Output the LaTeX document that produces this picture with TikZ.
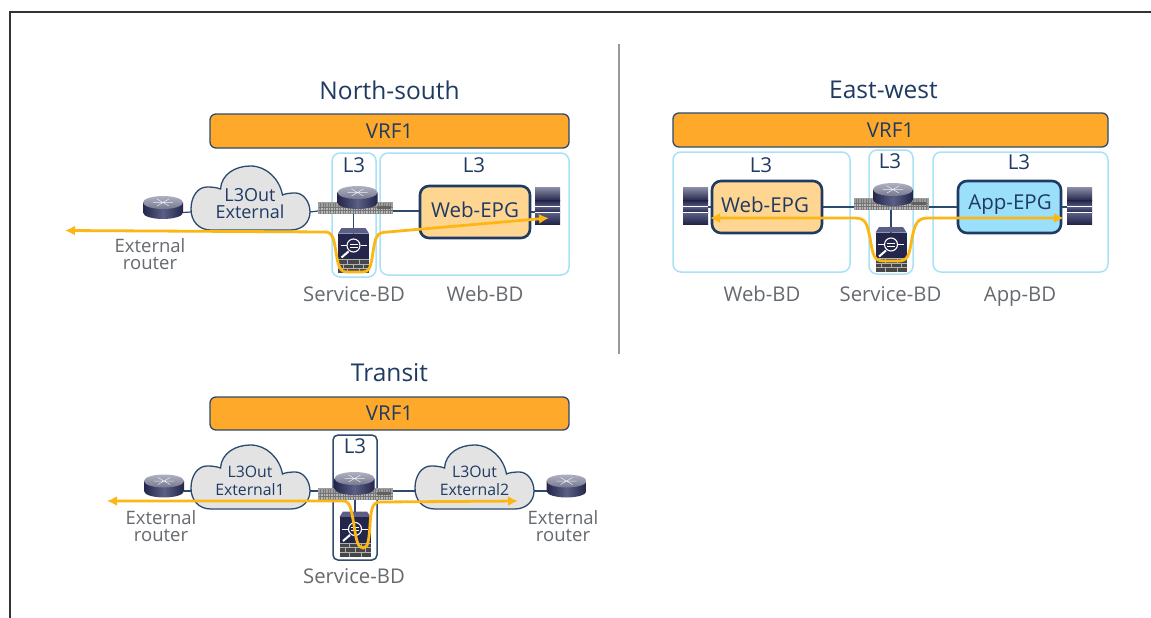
\documentclass[tikz,border=0pt]{standalone}
\usepackage{fontspec}
\usetikzlibrary{arrows.meta}
\setmainfont{Open Sans}
\definecolor{navy}{HTML}{1F3A63}
\definecolor{linkc}{HTML}{2C4A6E}
\definecolor{bdblue}{HTML}{A9E2F6}
\definecolor{orangebar}{HTML}{FFA92B}
\definecolor{webfill}{HTML}{FFD592}
\definecolor{appfill}{HTML}{9BE0FB}
\definecolor{cloudfill}{HTML}{E3E3E3}
\definecolor{flow}{HTML}{FDB714}
\definecolor{greytext}{HTML}{666A6E}
\definecolor{icondark}{HTML}{23264A}
\definecolor{iconmid}{HTML}{5C5F85}
\definecolor{icontop}{HTML}{8C8FA8}
\tikzset{
  anchorbox/.style={inner sep=0pt,outer sep=0pt,minimum width=#1,minimum height=10pt},
  vrfbar/.style={draw=linkc,line width=1.3pt,fill=orangebar,rounded corners=6pt,inner sep=0pt,text=navy,font=\fontsize{20.5}{22}\selectfont},
  bdbox/.style={draw=bdblue,line width=1.5pt,rounded corners=8pt,inner sep=0pt},
  bddark/.style={draw=linkc,line width=1.5pt,rounded corners=5pt,inner sep=0pt},
  epgbox/.style={draw=navy,line width=2.6pt,rounded corners=9pt,inner sep=0pt},
  link/.style={draw=linkc,line width=1.2pt},
  flowline/.style={draw=flow,line width=2.8pt},
  titletext/.style={text=navy,font=\fontsize{24.5}{26}\selectfont,inner sep=0pt},
  bdlabel/.style={text=greytext,anchor=base,font=\fontsize{20.3}{22}\selectfont,inner sep=0pt},
  lthree/.style={text=navy,font=\fontsize{20.5}{22}\selectfont,inner sep=0pt},
  extlabel/.style={text=greytext,align=center,font=\fontsize{18.5}{17}\selectfont,inner sep=0pt},
  cloudtext/.style={text=navy,align=center,font=\fontsize{18}{17.5}\selectfont,inner sep=0pt},
  cloudtextsmall/.style={text=navy,align=center,font=\fontsize{15.8}{17.5}\selectfont,inner sep=0pt},
  epgtext/.style={text=navy,font=\fontsize{20.5}{22}\selectfont,inner sep=0pt},
  flowtip/.style={{Latex[length=10pt,width=10pt]}-{Latex[length=10pt,width=10pt]}},
  flowend/.style={-{Latex[length=10pt,width=10pt]}},
}
% icons: #1 = anchor node
\newcommand{\drawrouter}[1]{\begin{scope}[shift={(#1.center)}]
  \shade[left color=icondark,right color=icondark,middle color=iconmid]
    (-20,-10) -- (-20,0) .. controls (-20,4) and (-10,6.5) .. (0,6.5) .. controls (10,6.5) and (20,4) .. (20,0) -- (20,-10) -- cycle;
  \shade[top color=icontop!70!white,bottom color=icontop!85!black] (0,-10) ellipse (20 and 6.5);
  \draw[white!85!icontop,line width=.5pt] (-10,-10) -- (10,-10) (-6,-13.5) -- (6,-6.5) (6,-13.5) -- (-6,-6.5);
\end{scope}}
\newcommand{\drawswitch}[1]{\begin{scope}[shift={(#1.center)}]
  \fill[black!38] (-37.5,-9) rectangle (37.5,3);
  \fill[black!28] (-36,-3) rectangle (36,2);
  \foreach \q in {-35,-32.5,...,35} \draw[black!52,line width=.35pt] (\q,-8) -- (\q,2.5);
  \draw[black!55,line width=.35pt] (-37,-3.5) -- (37,-3.5) (-37,-.5) -- (37,-.5);
  \fill[black!62] (21,-5) rectangle (35,-2);
\end{scope}}
\newcommand{\drawfirewall}[1]{\begin{scope}[shift={(#1.center)}]
  \fill[iconmid] (-15.5,-17) -- (-12,-22.5) -- (12,-22.5) -- (15.5,-17) -- cycle;
  \fill[icondark] (-15.5,-17) rectangle (15.5,22.5);
  \draw[white,line width=1.1pt] (0,-5) circle (6.5);
  \draw[white,line width=.8pt] (-4,-6.5) -- (4,-6.5) (-4,-3.5) -- (4,-3.5) (-13,-5) -- (-7,-5) (7,-5) -- (13,-5);
  \draw[white,line width=2pt] (-5,1) -- (-12,7);
  \fill[black!72] (-15.5,9) rectangle (15.5,22.5);
  \draw[black!30,line width=.6pt] (-15.5,9) -- (15.5,9) (-15.5,13.5) -- (15.5,13.5) (-15.5,18) -- (15.5,18)
    (-6,9) -- (-6,13.5) (6,9) -- (6,13.5) (0,13.5) -- (0,18) (-10,13.5) -- (-10,18) (10,13.5) -- (10,18) (-6,18) -- (-6,22.5) (6,18) -- (6,22.5);
\end{scope}}
\newcommand{\drawserver}[1]{\begin{scope}[shift={(#1.center)}]
  \shade[top color=icontop,bottom color=icondark] (-12.5,-18.5) rectangle (12.5,-5);
  \shade[top color=icondark,bottom color=iconmid] (-12.5,-5) rectangle (12.5,1);
  \shade[top color=iconmid,bottom color=icondark] (-12.5,1) rectangle (12.5,7);
  \shade[top color=iconmid,bottom color=icondark] (-12.5,7) rectangle (12.5,18.5);
  \draw[white,line width=1.3pt] (-12.5,1) -- (12.5,1) (-12.5,7) -- (12.5,7);
\end{scope}}
\newcommand{\drawcloud}[2]{\begin{scope}[shift={(#1.center)},xscale=#2]
  \draw[draw=linkc,line width=1.3pt,fill=cloudfill]
   (-39.5,18) .. controls (-52,18) and (-59.5,9) .. (-59.5,-3) .. controls (-59.5,-15) and (-53,-25) .. (-43.5,-25)
   .. controls (-38,-25) and (-34,-24.5) .. (-30,-23) .. controls (-29,-38) and (-15,-46) .. (0,-46)
   .. controls (16,-46) and (29,-33) .. (32,-17) .. controls (35,-18.5) and (40,-19) .. (45,-19)
   .. controls (53,-19) and (59.5,-10) .. (59.5,0) .. controls (59.5,10) and (52,18) .. (40,18) -- cycle;
\end{scope}}
\begin{document}
\begin{tikzpicture}[x=1pt,y=-1pt]
\useasboundingbox (0,0) rectangle (1151,618);
\fill[white] (0,0) rectangle (1151,618);
% frame
\coordinate (fa) at (10,618); \coordinate (fb) at (10,12); \coordinate (fc) at (1151,12);
\draw[black!80,line width=2.6pt] (fa) -- (fb) -- (fc);
\coordinate (da) at (619,44); \coordinate (db) at (619,354);
\draw[black!40,line width=1.1pt] (da) -- (db);
% titles
\node[titletext] (t1) at (389.5,90) {North-south};
\node[titletext] (t2) at (883.5,90) {East-west};
\node[titletext] (t3) at (389.5,372.5) {Transit};
% VRF bars
\node[vrfbar,minimum width=359pt,minimum height=34pt] (v1) at (389.5,131) {VRF1};
\node[vrfbar,minimum width=435pt,minimum height=34pt] (v2) at (890.5,130) {VRF1};
\node[vrfbar,minimum width=359pt,minimum height=33pt] (v3) at (389.5,413.5) {VRF1};
% BD boxes
\node[bdbox,minimum width=44pt,minimum height=124pt] (b1) at (354,215) {};
\node[bdbox,minimum width=189pt,minimum height=122pt] (b2) at (474.5,214) {};
\node[bdbox,minimum width=177pt,minimum height=120pt] (b3) at (761.5,212) {};
\node[bdbox,minimum width=44pt,minimum height=124pt] (b4) at (891,212) {};
\node[bdbox,minimum width=175pt,minimum height=120pt] (b5) at (1020.5,212) {};
\node[bddark,minimum width=44pt,minimum height=125pt] (b6) at (355,497.5) {};
% L3 labels
\node[lthree] (l1) at (354,165) {L3};
\node[lthree] (l2) at (474,165) {L3};
\node[lthree] (l3) at (761,165) {L3};
\node[lthree] (l4) at (890,161) {L3};
\node[lthree] (l5) at (1019,162) {L3};
\node[lthree] (l6) at (355,446) {L3};
% anchor nodes: north-south
\node[anchorbox=40pt] (nr) at (163,212.5) {};
\node[anchorbox=119pt] (nc) at (250.5,212) {};
\node[anchorbox=75pt] (ns) at (355.5,211) {};
\node[anchorbox=40pt] (nq) at (357.5,202.5) {};
\node[anchorbox=31pt] (nf) at (353.5,250.5) {};
\node[anchorbox=25pt] (nv) at (547.5,205.5) {};
\node[epgbox,fill=webfill,minimum width=110pt,minimum height=52pt] (ne) at (475,212) {};
% east-west
\node[anchorbox=25pt] (ev) at (695.5,205.5) {};
\node[anchorbox=75pt] (es) at (891,207) {};
\node[anchorbox=40pt] (eq) at (893,199.5) {};
\node[anchorbox=31pt] (ef) at (891,249.5) {};
\node[anchorbox=25pt] (eu) at (1079.5,205.5) {};
\node[epgbox,fill=webfill,minimum width=110pt,minimum height=52pt] (ee) at (767,207) {};
\node[epgbox,fill=appfill,minimum width=103pt,minimum height=52pt] (ea) at (1009.5,207) {};
% transit
\node[anchorbox=40pt] (tr) at (164,491) {};
\node[anchorbox=119pt] (tc) at (250.5,491) {};
\node[anchorbox=75pt] (ts) at (355.5,497) {};
\node[anchorbox=40pt] (tq) at (354.5,488.5) {};
\node[anchorbox=31pt] (tf) at (355,534) {};
\node[anchorbox=119pt] (td) at (474.5,491) {};
\node[anchorbox=40pt] (tu) at (566.5,491) {};
% connectors
\draw[link] (nr.east) -- (nc.west);
\draw[link] (nc.east) -- (ns.west);
\draw[link] (ns.east) -- (ne.west |- ns);
\draw[link] (ne.east) -- (ne.east -| nv.west);
\draw[link] (nf.center |- ns.center) -- (nf.center);
\draw[link] (ev.east |- ee.west) -- (ee.west);
\draw[link] (ee.east) -- (es.west);
\draw[link] (es.east) -- (ea.west);
\draw[link] (ea.east) -- (ea.east -| eu.west);
\draw[link] (ef.center |- es.center) -- (ef.center);
\draw[link] (tr.east) -- (tc.west);
\draw[link] (tc.east) -- (tc.east -| ts.west);
\draw[link] (td.west -| ts.east) -- (td.west);
\draw[link] (td.east) -- (tu.west);
\draw[link] (tf.center |- ts.center) -- (tf.center);
% icons
\drawrouter{nr}\drawcloud{nc}{1}\drawswitch{ns}\drawrouter{nq}\drawfirewall{nf}\drawserver{nv}
\drawserver{ev}\drawswitch{es}\drawrouter{eq}\drawfirewall{ef}\drawserver{eu}
\drawrouter{tr}\drawcloud{tc}{1}\drawswitch{ts}\drawrouter{tq}\drawfirewall{tf}\drawcloud{td}{1}\drawrouter{tu}
% text on shapes
\node[cloudtext] (x1) at (250,203.5) {L3Out\\External};
\node[cloudtextsmall] (x2) at (250,481) {L3Out\\External1};
\node[cloudtextsmall] (x3) at (474.5,481) {L3Out\\External2};
\node[epgtext] (x4) at (475,210) {Web-EPG};
\node[epgtext] (x5) at (765,205) {Web-EPG};
\node[epgtext] (x6) at (1010,205) {App-EPG};
% labels
\node[bdlabel] (y1) at (354,301) {Service-BD};
\node[bdlabel] (y2) at (485,301) {Web-BD};
\node[bdlabel] (y3) at (762,301) {Web-BD};
\node[bdlabel] (y4) at (890.5,301) {Service-BD};
\node[bdlabel] (y5) at (1020,301) {App-BD};
\node[bdlabel] (y6) at (354,583) {Service-BD};
\node[extlabel] (z1) at (150,254) {External\\router};
\node[extlabel] (z2) at (161,526) {External\\router};
\node[extlabel] (z3) at (563,526) {External\\router};
% flows
\coordinate (fn1) at (65,230.5); \coordinate (fn2) at (549,218);
\draw[flowline,flowend] (382,232.5) -- (fn2);
\draw[flowline,flowend]
  (382,232.5) .. controls (376,234) and (375,240) .. (373,252)
  .. controls (371,266) and (370,272) .. (362,272) -- (347,272)
  .. controls (340,272) and (338,266) .. (336,252)
  .. controls (334,240) and (333,232) .. (325,232) -- (fn1);
\coordinate (fe1) at (710,218); \coordinate (fe2) at (1064,218);
\draw[flowline,flowtip]
  (fe1) -- (855,218) .. controls (866,218) and (867,224) .. (870,238)
  .. controls (873,256) and (874,261) .. (884,261) -- (898,261)
  .. controls (908,261) and (909,256) .. (912,238)
  .. controls (915,224) and (917,218) .. (928,218) -- (fe2);
\coordinate (ft1) at (107,501); \coordinate (ft2) at (518,501);
\draw[flowline,flowtip]
  (ft1) -- (343,501) .. controls (350,501) and (351,508) .. (354,525)
  .. controls (356,540) and (358,548) .. (363,548)
  .. controls (368,548) and (369,540) .. (370,525)
  .. controls (371,510) and (372,502) .. (380,502) -- (ft2);
\end{tikzpicture}
\end{document}
